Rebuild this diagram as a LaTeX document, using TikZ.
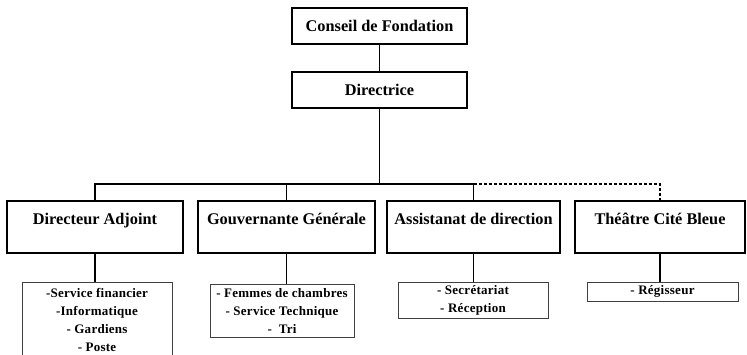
\documentclass[tikz,border=0pt]{standalone}
\usepackage{fontspec}
\setmainfont{Liberation Serif}
\newfontfamily\spacedserif[LetterSpace=2]{Liberation Serif}
\begin{document}
\begin{tikzpicture}[x=1pt,y=-1pt,
  lvA/.style={draw=black,line width=2.2pt,font=\bfseries\fontsize{16.3}{19}\selectfont,
    inner sep=0pt,minimum height=36pt,anchor=north},
  lvB/.style={draw=black,line width=2.2pt,font=\bfseries\fontsize{16.3}{19}\selectfont,
    inner xsep=0pt,inner ysep=0pt,text height=23pt,text depth=29pt,anchor=north},
  lvC/.style={draw=black!75,line width=0.8pt,font=\spacedserif\bfseries\fontsize{13}{17.8}\selectfont,
    align=center,inner xsep=0pt,inner ysep=0pt,anchor=north},
  conn/.style={line width=1.2pt,black}]
\useasboundingbox (0,0) rectangle (747,354);
\clip (0,0) rectangle (747,354);
\node[lvA,minimum width=175pt] (cf) at (379.5,7) {Conseil de Fondation};
\node[lvA,minimum width=175pt] (dir) at (379.5,71) {Directrice};
\node[lvB,minimum width=176pt] (da) at (95,200) {Directeur Adjoint};
\node[lvB,minimum width=177pt] (gg) at (286.5,200) {Gouvernante Générale};
\node[lvB,minimum width=173pt] (ad) at (473.5,200) {Assistanat de direction};
\node[lvB,minimum width=170pt] (tc) at (660,200) {Théâtre Cité Bleue};
\node[lvC,minimum width=150pt,minimum height=75pt] (da3) at (97,282)
  {-Service financier\\-Informatique\\- Gardiens\\- Poste};
\node[lvC,minimum width=144pt,minimum height=53pt] (gg3) at (282,284)
  {- Femmes de chambres\\- Service Technique\\-\ \ Tri};
\node[lvC,minimum width=150pt,minimum height=36pt] (ad3) at (473,282)
  {- Secrétariat\\- Réception};
\node[lvC,minimum width=151pt,minimum height=19pt] (tc3) at (662.5,282)
  {- Régisseur};
\coordinate (bus) at (379.5,184);
\draw[conn] (cf.south) -- (dir.north);
\draw[conn] (dir.south) -- (bus);
\draw[conn] (da.north) -- (da.north |- bus) -- (ad.north |- bus) -- (ad.north);
\draw[conn] (gg.north) -- (gg.north |- bus);
\draw[conn,dash pattern=on 3pt off 2pt] (ad.north |- bus) -- (tc.north |- bus) -- (tc.north);
\draw[conn] (da.south) -- (da.south |- da3.north);
\draw[conn] (gg.south) -- (gg.south |- gg3.north);
\draw[conn] (ad.south) -- (ad.south |- ad3.north);
\draw[conn] (tc.south) -- (tc.south |- tc3.north);
\end{tikzpicture}
\end{document}
